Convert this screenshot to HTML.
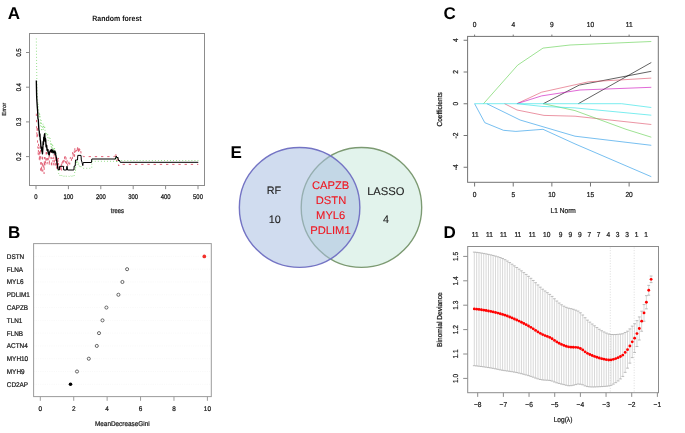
<!DOCTYPE html>
<html><head><meta charset="utf-8"><title>Figure</title>
<style>
html,body{margin:0;padding:0;background:#fff;}
body{width:685px;height:433px;overflow:hidden;}
svg{display:block;font-family:"Liberation Sans", sans-serif;text-rendering:geometricPrecision;filter:blur(0.4px);}
</style></head>
<body>
<svg width="685" height="433" viewBox="0 0 685 433">
<rect width="685" height="433" fill="#fff"/>
<text x="7.8" y="19.3" font-size="17" text-anchor="start" font-weight="bold" fill="#000">A</text>
<text transform="translate(117 20.7) scale(1 1.1)" font-size="7" text-anchor="middle" font-weight="bold" fill="#111">Random forest</text>
<polyline points="36.32,38.6 36.65,68.36 36.97,88.44 37.3,93.59 37.62,100.08 37.94,105.1 38.27,104.05 38.59,110.12 38.92,113.95 39.24,118.01 39.56,112.76 39.89,116.93 40.21,116.54 40.54,125.75 40.86,125.94 41.18,120.28 41.51,130.72 41.83,131.2 42.16,128.65 42.48,128.8 42.8,124.74 43.13,123.83 43.45,129.35 43.78,125.25 44.1,127.02 44.42,128 44.75,126.43 45.07,130.89 45.4,131.03 45.72,135.07 46.04,132.51 46.37,134.03 46.69,133.3 47.02,135.29 47.34,134.14 47.66,133.3 47.99,140.01 48.31,140.66 48.64,140.1 48.96,139.78 49.28,137.44 49.61,137.61 49.93,138.96 50.26,138.22 50.58,144.43 50.9,142.61 51.23,146.82 51.55,144.32 51.88,149.3 52.2,149.25 52.52,143.94 52.85,145.98 53.17,151.23 53.5,148.56 53.82,152.29 54.14,148.8 54.47,147.2 54.79,151.38 55.12,153.11 55.44,151.19 55.76,151.73 56.09,155.02 56.41,160.36 56.74,161.25 57.06,160.63 57.38,163.95 57.71,166.27 58.03,168.85 58.36,172.79 58.68,173.62 59,175.09 59.33,175.02 59.65,174.75 59.98,175.63 60.3,174.89 60.62,175.67 60.95,175.07 61.27,175.55 61.6,175.37 61.92,175.52 62.24,176.39 62.57,176.25 62.89,175.78 63.22,176.43 63.54,175.8 63.86,176.03 64.19,176.51 64.51,176.34 64.84,175.9 65.16,176.7 65.48,176.06 65.81,176.13 66.13,176.56 66.46,176.22 66.78,176.2 67.1,176.03 67.43,176.05 67.75,176.43 68.08,176.15 68.4,176.42 68.72,176.22 69.05,176.26 69.37,176.65 69.7,176.22 70.02,176.26 70.34,176.49 70.67,175.82 70.99,175.73 71.32,176.42 71.64,176.28 71.96,175.6 72.29,175.45 72.61,176.03 72.94,176.23 73.26,175.17 73.58,176.14 73.91,175.98 74.23,175.47 74.56,174.01 74.88,169.82 75.2,167.17 75.53,170.64 75.85,163.81 76.18,164.46 76.5,160.65 76.82,163.42 77.15,162.54 77.47,161.79 77.8,162.09 78.12,164.88 78.44,162.71 78.77,163.69 79.09,165.16 79.42,166.35 79.74,165.9 80.06,165.32 80.39,167.12 80.71,165.85 81.04,165.87 81.36,166.65 81.68,167.18 82.01,167.03 82.33,167.44 82.66,167.82 82.98,168.11 83.3,168.3 91.73,168.3 91.89,161.3 114.73,161.3 115.7,156 116.68,163 117.65,157.5 118.94,162 120.24,160.5 198.3,160.5" fill="none" stroke="#61D04F" stroke-width="0.85" stroke-dasharray="0.75 2.3"/>
<polyline points="36.32,113.7 36.65,126.91 36.97,137.85 37.3,126.4 37.62,147.26 37.94,147.25 38.27,155.46 38.59,143.35 38.92,148.08 39.24,159.44 39.56,151.69 39.89,161.29 40.21,145.84 40.54,149.02 40.86,172.45 41.18,162.2 41.51,165.21 41.83,172.12 42.16,158.93 42.48,148.84 42.8,171.39 43.13,164.82 43.45,166.35 43.78,164.78 44.1,174.01 44.42,157.05 44.75,167.24 45.07,157 45.4,161.91 45.72,163.85 46.04,155.49 46.37,150.12 46.69,158.97 47.02,164.31 47.34,161.28 47.66,158 47.99,162.15 48.31,152.16 48.64,152.13 48.96,155.27 49.28,165.69 49.61,152.96 49.93,151.57 50.26,151.6 50.58,150.78 50.9,155.84 51.23,161.94 51.55,166.91 51.88,157.7 52.2,158.56 52.52,157.09 52.85,157.36 53.17,165.77 53.5,161.47 53.82,156.19 54.14,153.47 54.47,164.86 54.79,163.4 55.12,165.29 55.44,155.81 55.76,160.99 56.09,167.15 56.41,162.77 56.74,168.4 57.06,158.05 57.38,169.31 57.71,157.55 58.03,162.46 58.36,157.96 58.68,167.72 59,166.47 59.33,170.04 59.65,168.22 59.98,170.02 60.3,165.41 60.62,170.63 60.95,167.94 61.27,163.4 61.6,170.41 61.92,163.63 62.24,161.37 62.57,159.69 62.89,163.46 63.22,159.89 63.54,167.26 63.86,166.75 64.19,158.15 64.51,156.39 64.84,160.56 65.16,156.45 65.48,160.41 65.81,163.39 66.13,157.64 66.46,159.75 66.78,165.19 67.1,160.71 67.43,159.96 67.75,166 68.08,165.3 68.4,166.13 68.72,163.81 69.05,160.71 69.37,163.3 69.7,164.33 70.02,161.93 70.34,157.36 70.67,157.45 70.99,158.11 71.32,161.24 71.64,158.57 71.96,157.96 72.29,160.09 72.61,152.37 72.94,156.84 73.26,153.24 73.58,154.79 73.91,156.82 74.23,150.55 74.56,156.78 74.88,147.98 75.2,152.2 75.53,151.66 75.85,148.49 76.18,151.23 76.5,150.17 76.82,149.8 77.15,152.01 77.47,145.8 77.8,148.96 78.12,152.28 78.44,147.33 78.77,152.94 79.09,148.4 79.42,151.91 79.74,149.08 80.06,151.12 80.39,151.39 80.71,150.32 81.04,153.36 81.36,152.93 81.68,153.99 82.01,154.12 82.33,154.75 82.66,155.34 82.98,155.87 83.3,156.6 114.73,156.6 115.7,153 116.68,161 117.65,157 118.62,166 119.92,164.4 198.3,164.4" fill="none" stroke="#DF536B" stroke-width="0.9" stroke-dasharray="2.3 3.9"/>
<polyline points="58.03,169.5 59.3,170 59.6,166.3 63.4,166.3 63.7,170 66.5,170 66.8,166.3 67.2,166.3 67.5,170 73.9,170 74.2,166 75.2,166 75.5,160 77.5,160 77.8,155.4 81,155.4 81.3,160 82.1,162.5 82.8,165.6 83.2,162.5 91.5,162.5 91.8,159 115.4,159 116.2,156 117,158 117.8,157 118.6,161 119.4,160 120.2,162.3 198.3,162.3" fill="none" stroke="#000" stroke-width="1" stroke-linejoin="round"/>
<polyline points="36.32,80.5 36.65,96.4 36.97,101.89 37.3,107.03 37.62,111.07 37.94,118.45 38.27,119.38 38.59,124.98 38.92,130.32 39.24,131.01 39.56,136.11 39.89,133.88 40.21,139.76 40.54,140.85 40.86,145.81 41.18,148.6 41.51,147.08 41.83,151.3 42.16,151.58 42.48,153.8 42.8,149.21 43.13,141.58 43.45,144.4 43.78,137.06 44.1,139.51 44.42,134.73 44.75,133.74 45.07,141.18 45.4,138.27 45.72,140.15 46.04,146.44 46.37,147.14 46.69,145.3 47.02,150.21 47.34,149.2 47.66,150.9 47.99,149.57 48.31,153.81 48.64,153.25 48.96,154.89 49.28,154.67 49.61,151.92 49.93,151.92 50.26,150.78 50.58,150.49 50.9,150.02 51.23,150.89 51.55,152.01 51.88,149.45 52.2,152.12 52.52,150.77 52.85,150.76 53.17,152.86 53.5,151.75 53.82,151.32 54.14,152.04 54.47,152.92 54.79,150.88 55.12,154.33 55.44,152.07 55.76,155.21 56.09,156.77 56.41,157.26 56.74,160.88 57.06,162.93 57.38,165.2 57.71,167.35 58.03,169.5" fill="none" stroke="#000" stroke-width="1.35" stroke-linejoin="round"/>
<rect x="29.5" y="33.5" width="175" height="152" fill="none" stroke="#8c8c8c" stroke-width="1"/>
<line x1="26" y1="156.6" x2="29.5" y2="156.6" stroke="#8c8c8c" stroke-width="1"/>
<text transform="translate(21.32 156.6) rotate(-90) scale(1 1.15)" font-size="5.9" text-anchor="middle" fill="#1a1a1a" stroke="#1a1a1a" stroke-width="0.22">0.2</text>
<line x1="26" y1="121.9" x2="29.5" y2="121.9" stroke="#8c8c8c" stroke-width="1"/>
<text transform="translate(21.32 121.9) rotate(-90) scale(1 1.15)" font-size="5.9" text-anchor="middle" fill="#1a1a1a" stroke="#1a1a1a" stroke-width="0.22">0.3</text>
<line x1="26" y1="87.2" x2="29.5" y2="87.2" stroke="#8c8c8c" stroke-width="1"/>
<text transform="translate(21.32 87.2) rotate(-90) scale(1 1.15)" font-size="5.9" text-anchor="middle" fill="#1a1a1a" stroke="#1a1a1a" stroke-width="0.22">0.4</text>
<line x1="26" y1="52.5" x2="29.5" y2="52.5" stroke="#8c8c8c" stroke-width="1"/>
<text transform="translate(21.32 52.5) rotate(-90) scale(1 1.15)" font-size="5.9" text-anchor="middle" fill="#1a1a1a" stroke="#1a1a1a" stroke-width="0.22">0.5</text>
<text transform="translate(6.34 109.3) rotate(-90) scale(1 1)" font-size="5.8" text-anchor="middle" fill="#1a1a1a" stroke="#1a1a1a" stroke-width="0.22">Error</text>
<line x1="36" y1="185.5" x2="36" y2="189.2" stroke="#8c8c8c" stroke-width="1"/>
<text transform="translate(36 199) scale(1 1.15)" font-size="5.9" text-anchor="middle" font-weight="normal" fill="#1a1a1a" stroke="#1a1a1a" stroke-width="0.22">0</text>
<line x1="68.4" y1="185.5" x2="68.4" y2="189.2" stroke="#8c8c8c" stroke-width="1"/>
<text transform="translate(68.4 199) scale(1 1.15)" font-size="5.9" text-anchor="middle" font-weight="normal" fill="#1a1a1a" stroke="#1a1a1a" stroke-width="0.22">100</text>
<line x1="100.8" y1="185.5" x2="100.8" y2="189.2" stroke="#8c8c8c" stroke-width="1"/>
<text transform="translate(100.8 199) scale(1 1.15)" font-size="5.9" text-anchor="middle" font-weight="normal" fill="#1a1a1a" stroke="#1a1a1a" stroke-width="0.22">200</text>
<line x1="133.2" y1="185.5" x2="133.2" y2="189.2" stroke="#8c8c8c" stroke-width="1"/>
<text transform="translate(133.2 199) scale(1 1.15)" font-size="5.9" text-anchor="middle" font-weight="normal" fill="#1a1a1a" stroke="#1a1a1a" stroke-width="0.22">300</text>
<line x1="165.6" y1="185.5" x2="165.6" y2="189.2" stroke="#8c8c8c" stroke-width="1"/>
<text transform="translate(165.6 199) scale(1 1.15)" font-size="5.9" text-anchor="middle" font-weight="normal" fill="#1a1a1a" stroke="#1a1a1a" stroke-width="0.22">400</text>
<line x1="198" y1="185.5" x2="198" y2="189.2" stroke="#8c8c8c" stroke-width="1"/>
<text transform="translate(198 199) scale(1 1.15)" font-size="5.9" text-anchor="middle" font-weight="normal" fill="#1a1a1a" stroke="#1a1a1a" stroke-width="0.22">500</text>
<text transform="translate(117.4 213.3) scale(1 1.15)" font-size="5.9" text-anchor="middle" font-weight="normal" fill="#1a1a1a" stroke="#1a1a1a" stroke-width="0.22">trees</text>
<text x="7.9" y="238.2" font-size="17" text-anchor="start" font-weight="bold" fill="#000">B</text>
<line x1="34.6" y1="256.4" x2="210.3" y2="256.4" stroke="#ececec" stroke-width="0.5" stroke-dasharray="0.6 1.2"/>
<text transform="translate(6.8 258.85) scale(1 1.08)" font-size="6.4" text-anchor="start" font-weight="normal" fill="#1a1a1a" stroke="#1a1a1a" stroke-width="0.22">DSTN</text>
<circle cx="204.3" cy="256.4" r="1.85" fill="#f2302a"/>
<line x1="34.6" y1="269.19" x2="210.3" y2="269.19" stroke="#ececec" stroke-width="0.5" stroke-dasharray="0.6 1.2"/>
<text transform="translate(6.8 271.64) scale(1 1.08)" font-size="6.4" text-anchor="start" font-weight="normal" fill="#1a1a1a" stroke="#1a1a1a" stroke-width="0.22">FLNA</text>
<circle cx="127.1" cy="269.19" r="1.55" fill="none" stroke="#444" stroke-width="0.8"/>
<line x1="34.6" y1="281.98" x2="210.3" y2="281.98" stroke="#ececec" stroke-width="0.5" stroke-dasharray="0.6 1.2"/>
<text transform="translate(6.8 284.43) scale(1 1.08)" font-size="6.4" text-anchor="start" font-weight="normal" fill="#1a1a1a" stroke="#1a1a1a" stroke-width="0.22">MYL6</text>
<circle cx="122.4" cy="281.98" r="1.55" fill="none" stroke="#444" stroke-width="0.8"/>
<line x1="34.6" y1="294.77" x2="210.3" y2="294.77" stroke="#ececec" stroke-width="0.5" stroke-dasharray="0.6 1.2"/>
<text transform="translate(6.8 297.22) scale(1 1.08)" font-size="6.4" text-anchor="start" font-weight="normal" fill="#1a1a1a" stroke="#1a1a1a" stroke-width="0.22">PDLIM1</text>
<circle cx="118.4" cy="294.77" r="1.55" fill="none" stroke="#444" stroke-width="0.8"/>
<line x1="34.6" y1="307.56" x2="210.3" y2="307.56" stroke="#ececec" stroke-width="0.5" stroke-dasharray="0.6 1.2"/>
<text transform="translate(6.8 310.01) scale(1 1.08)" font-size="6.4" text-anchor="start" font-weight="normal" fill="#1a1a1a" stroke="#1a1a1a" stroke-width="0.22">CAPZB</text>
<circle cx="106.4" cy="307.56" r="1.55" fill="none" stroke="#444" stroke-width="0.8"/>
<line x1="34.6" y1="320.35" x2="210.3" y2="320.35" stroke="#ececec" stroke-width="0.5" stroke-dasharray="0.6 1.2"/>
<text transform="translate(6.8 322.8) scale(1 1.08)" font-size="6.4" text-anchor="start" font-weight="normal" fill="#1a1a1a" stroke="#1a1a1a" stroke-width="0.22">TLN1</text>
<circle cx="102.5" cy="320.35" r="1.55" fill="none" stroke="#444" stroke-width="0.8"/>
<line x1="34.6" y1="333.14" x2="210.3" y2="333.14" stroke="#ececec" stroke-width="0.5" stroke-dasharray="0.6 1.2"/>
<text transform="translate(6.8 335.59) scale(1 1.08)" font-size="6.4" text-anchor="start" font-weight="normal" fill="#1a1a1a" stroke="#1a1a1a" stroke-width="0.22">FLNB</text>
<circle cx="99" cy="333.14" r="1.55" fill="none" stroke="#444" stroke-width="0.8"/>
<line x1="34.6" y1="345.93" x2="210.3" y2="345.93" stroke="#ececec" stroke-width="0.5" stroke-dasharray="0.6 1.2"/>
<text transform="translate(6.8 348.38) scale(1 1.08)" font-size="6.4" text-anchor="start" font-weight="normal" fill="#1a1a1a" stroke="#1a1a1a" stroke-width="0.22">ACTN4</text>
<circle cx="96.8" cy="345.93" r="1.55" fill="none" stroke="#444" stroke-width="0.8"/>
<line x1="34.6" y1="358.72" x2="210.3" y2="358.72" stroke="#ececec" stroke-width="0.5" stroke-dasharray="0.6 1.2"/>
<text transform="translate(6.8 361.17) scale(1 1.08)" font-size="6.4" text-anchor="start" font-weight="normal" fill="#1a1a1a" stroke="#1a1a1a" stroke-width="0.22">MYH10</text>
<circle cx="88.8" cy="358.72" r="1.55" fill="none" stroke="#444" stroke-width="0.8"/>
<line x1="34.6" y1="371.51" x2="210.3" y2="371.51" stroke="#ececec" stroke-width="0.5" stroke-dasharray="0.6 1.2"/>
<text transform="translate(6.8 373.96) scale(1 1.08)" font-size="6.4" text-anchor="start" font-weight="normal" fill="#1a1a1a" stroke="#1a1a1a" stroke-width="0.22">MYH9</text>
<circle cx="77" cy="371.51" r="1.55" fill="none" stroke="#444" stroke-width="0.8"/>
<line x1="34.6" y1="384.3" x2="210.3" y2="384.3" stroke="#ececec" stroke-width="0.5" stroke-dasharray="0.6 1.2"/>
<text transform="translate(6.8 386.75) scale(1 1.08)" font-size="6.4" text-anchor="start" font-weight="normal" fill="#1a1a1a" stroke="#1a1a1a" stroke-width="0.22">CD2AP</text>
<circle cx="70.5" cy="384.3" r="1.8" fill="#000"/>
<rect x="33.6" y="243.6" width="177.7" height="153" fill="none" stroke="#9c9c9c" stroke-width="1"/>
<line x1="40.3" y1="396.6" x2="40.3" y2="400.8" stroke="#9c9c9c" stroke-width="1"/>
<text transform="translate(40.3 411.25) scale(1 1.08)" font-size="6.4" text-anchor="middle" font-weight="normal" fill="#1a1a1a" stroke="#1a1a1a" stroke-width="0.22">0</text>
<line x1="73.72" y1="396.6" x2="73.72" y2="400.8" stroke="#9c9c9c" stroke-width="1"/>
<text transform="translate(73.72 411.25) scale(1 1.08)" font-size="6.4" text-anchor="middle" font-weight="normal" fill="#1a1a1a" stroke="#1a1a1a" stroke-width="0.22">2</text>
<line x1="107.14" y1="396.6" x2="107.14" y2="400.8" stroke="#9c9c9c" stroke-width="1"/>
<text transform="translate(107.14 411.25) scale(1 1.08)" font-size="6.4" text-anchor="middle" font-weight="normal" fill="#1a1a1a" stroke="#1a1a1a" stroke-width="0.22">4</text>
<line x1="140.56" y1="396.6" x2="140.56" y2="400.8" stroke="#9c9c9c" stroke-width="1"/>
<text transform="translate(140.56 411.25) scale(1 1.08)" font-size="6.4" text-anchor="middle" font-weight="normal" fill="#1a1a1a" stroke="#1a1a1a" stroke-width="0.22">6</text>
<line x1="173.98" y1="396.6" x2="173.98" y2="400.8" stroke="#9c9c9c" stroke-width="1"/>
<text transform="translate(173.98 411.25) scale(1 1.08)" font-size="6.4" text-anchor="middle" font-weight="normal" fill="#1a1a1a" stroke="#1a1a1a" stroke-width="0.22">8</text>
<line x1="207.4" y1="396.6" x2="207.4" y2="400.8" stroke="#9c9c9c" stroke-width="1"/>
<text transform="translate(207.4 411.25) scale(1 1.08)" font-size="6.4" text-anchor="middle" font-weight="normal" fill="#1a1a1a" stroke="#1a1a1a" stroke-width="0.22">10</text>
<text transform="translate(122.3 426.27) scale(1 1.08)" font-size="6.4" text-anchor="middle" font-weight="normal" fill="#1a1a1a" stroke="#1a1a1a" stroke-width="0.22">MeanDecreaseGini</text>
<text x="230.4" y="158.3" font-size="17" text-anchor="start" font-weight="bold" fill="#000">E</text>
<ellipse cx="361.45" cy="207.45" rx="60.25" ry="59.95" fill="#e2f3ec" stroke="#7c9a72" stroke-width="1.35"/>
<ellipse cx="299.6" cy="207.45" rx="60.25" ry="59.95" fill="#a9bfe2" fill-opacity="0.55" stroke="#7474c4" stroke-width="1.4"/>
<text x="273.9" y="194.2" font-size="10.8" text-anchor="middle" font-weight="normal" fill="#222" stroke="#222" stroke-width="0.1">RF</text>
<text x="274.7" y="222.9" font-size="10.8" text-anchor="middle" font-weight="normal" fill="#222" stroke="#222" stroke-width="0.1">10</text>
<text x="385.8" y="194.8" font-size="11.2" text-anchor="middle" font-weight="normal" fill="#222" stroke="#222" stroke-width="0.1">LASSO</text>
<text x="386" y="222.9" font-size="10.8" text-anchor="middle" font-weight="normal" fill="#222" stroke="#222" stroke-width="0.1">4</text>
<text x="330.7" y="188.6" font-size="11.2" text-anchor="middle" font-weight="normal" fill="#f0141e" stroke="#f0141e" stroke-width="0.1">CAPZB</text>
<text x="331" y="204" font-size="11.2" text-anchor="middle" font-weight="normal" fill="#f0141e" stroke="#f0141e" stroke-width="0.1">DSTN</text>
<text x="330.7" y="219.2" font-size="11.2" text-anchor="middle" font-weight="normal" fill="#f0141e" stroke="#f0141e" stroke-width="0.1">MYL6</text>
<text x="330.4" y="234.3" font-size="11.2" text-anchor="middle" font-weight="normal" fill="#f0141e" stroke="#f0141e" stroke-width="0.1">PDLIM1</text>
<text x="443.5" y="19" font-size="17" text-anchor="start" font-weight="bold" fill="#000">C</text>
<polyline points="543.3,103.7 579.2,85.1 651.3,71.3" fill="none" stroke="#000" stroke-width="0.62"/>
<polyline points="578.3,103.7 651.3,62.5" fill="none" stroke="#000" stroke-width="0.62"/>
<polyline points="516.9,103.7 541.6,92.2 588.5,81.8 651.3,78.1" fill="none" stroke="#DF536B" stroke-width="0.62"/>
<polyline points="504.5,103.7 517,110 544,115.4 575,116.2 651.3,124.5" fill="none" stroke="#DF536B" stroke-width="0.62"/>
<polyline points="483.5,103.7 517.7,65.1 543,48.1 570,45 651.3,41.5" fill="none" stroke="#61D04F" stroke-width="0.62"/>
<polyline points="543.3,103.7 575,110.6 626,129.3 651.3,137.2" fill="none" stroke="#61D04F" stroke-width="0.62"/>
<polyline points="474.6,103.7 484.8,122.7 503.5,130.3 515.9,131.4 543,129.3 575,143.9 651.3,176.7" fill="none" stroke="#2297E6" stroke-width="0.62"/>
<polyline points="486.8,103.7 520.1,120 575,136.2 651.3,145.3" fill="none" stroke="#2297E6" stroke-width="0.62"/>
<polyline points="516.9,103.7 541.6,95.9 580,90 651.3,87.3" fill="none" stroke="#CD0BBC" stroke-width="0.62"/>
<polyline points="517,103.7 541.9,106.4 575,107.9 651.3,115.2" fill="none" stroke="#28E2E5" stroke-width="0.62"/>
<polyline points="474.6,103.7 621.5,103.7 651.3,107.5" fill="none" stroke="#28E2E5" stroke-width="0.62"/>
<rect x="467.6" y="36.4" width="190.7" height="145.9" fill="none" stroke="#747474" stroke-width="1"/>
<line x1="474.6" y1="182.3" x2="474.6" y2="186.5" stroke="#747474" stroke-width="1"/>
<text transform="translate(474.6 197.17) scale(1 1.1)" font-size="6.6" text-anchor="middle" font-weight="normal" fill="#1a1a1a" stroke="#1a1a1a" stroke-width="0.22">0</text>
<line x1="474.6" y1="36.4" x2="474.6" y2="34.6" stroke="#747474" stroke-width="1"/>
<text transform="translate(474.6 26.87) scale(1 1.1)" font-size="6.6" text-anchor="middle" font-weight="normal" fill="#1a1a1a" stroke="#1a1a1a" stroke-width="0.22">0</text>
<line x1="513.23" y1="182.3" x2="513.23" y2="186.5" stroke="#747474" stroke-width="1"/>
<text transform="translate(513.23 197.17) scale(1 1.1)" font-size="6.6" text-anchor="middle" font-weight="normal" fill="#1a1a1a" stroke="#1a1a1a" stroke-width="0.22">5</text>
<line x1="513.23" y1="36.4" x2="513.23" y2="34.6" stroke="#747474" stroke-width="1"/>
<text transform="translate(513.23 26.87) scale(1 1.1)" font-size="6.6" text-anchor="middle" font-weight="normal" fill="#1a1a1a" stroke="#1a1a1a" stroke-width="0.22">4</text>
<line x1="551.86" y1="182.3" x2="551.86" y2="186.5" stroke="#747474" stroke-width="1"/>
<text transform="translate(551.86 197.17) scale(1 1.1)" font-size="6.6" text-anchor="middle" font-weight="normal" fill="#1a1a1a" stroke="#1a1a1a" stroke-width="0.22">10</text>
<line x1="551.86" y1="36.4" x2="551.86" y2="34.6" stroke="#747474" stroke-width="1"/>
<text transform="translate(551.86 26.87) scale(1 1.1)" font-size="6.6" text-anchor="middle" font-weight="normal" fill="#1a1a1a" stroke="#1a1a1a" stroke-width="0.22">9</text>
<line x1="590.49" y1="182.3" x2="590.49" y2="186.5" stroke="#747474" stroke-width="1"/>
<text transform="translate(590.49 197.17) scale(1 1.1)" font-size="6.6" text-anchor="middle" font-weight="normal" fill="#1a1a1a" stroke="#1a1a1a" stroke-width="0.22">15</text>
<line x1="590.49" y1="36.4" x2="590.49" y2="34.6" stroke="#747474" stroke-width="1"/>
<text transform="translate(590.49 26.87) scale(1 1.1)" font-size="6.6" text-anchor="middle" font-weight="normal" fill="#1a1a1a" stroke="#1a1a1a" stroke-width="0.22">10</text>
<line x1="629.12" y1="182.3" x2="629.12" y2="186.5" stroke="#747474" stroke-width="1"/>
<text transform="translate(629.12 197.17) scale(1 1.1)" font-size="6.6" text-anchor="middle" font-weight="normal" fill="#1a1a1a" stroke="#1a1a1a" stroke-width="0.22">20</text>
<line x1="629.12" y1="36.4" x2="629.12" y2="34.6" stroke="#747474" stroke-width="1"/>
<text transform="translate(629.12 26.87) scale(1 1.1)" font-size="6.6" text-anchor="middle" font-weight="normal" fill="#1a1a1a" stroke="#1a1a1a" stroke-width="0.22">11</text>
<line x1="463.6" y1="40.25" x2="467.6" y2="40.25" stroke="#747474" stroke-width="1"/>
<text transform="translate(457.98 40.25) rotate(-90) scale(1 1.1)" font-size="6.6" text-anchor="middle" fill="#1a1a1a" stroke="#1a1a1a" stroke-width="0.22">4</text>
<line x1="463.6" y1="72" x2="467.6" y2="72" stroke="#747474" stroke-width="1"/>
<text transform="translate(457.98 72) rotate(-90) scale(1 1.1)" font-size="6.6" text-anchor="middle" fill="#1a1a1a" stroke="#1a1a1a" stroke-width="0.22">2</text>
<line x1="463.6" y1="103.75" x2="467.6" y2="103.75" stroke="#747474" stroke-width="1"/>
<text transform="translate(457.98 103.75) rotate(-90) scale(1 1.1)" font-size="6.6" text-anchor="middle" fill="#1a1a1a" stroke="#1a1a1a" stroke-width="0.22">0</text>
<line x1="463.6" y1="135.5" x2="467.6" y2="135.5" stroke="#747474" stroke-width="1"/>
<text transform="translate(457.98 135.5) rotate(-90) scale(1 1.1)" font-size="6.6" text-anchor="middle" fill="#1a1a1a" stroke="#1a1a1a" stroke-width="0.22">-2</text>
<line x1="463.6" y1="167.25" x2="467.6" y2="167.25" stroke="#747474" stroke-width="1"/>
<text transform="translate(457.98 167.25) rotate(-90) scale(1 1.1)" font-size="6.6" text-anchor="middle" fill="#1a1a1a" stroke="#1a1a1a" stroke-width="0.22">-4</text>
<text transform="translate(441.78 109.4) rotate(-90) scale(1 1.1)" font-size="6.6" text-anchor="middle" fill="#1a1a1a" stroke="#1a1a1a" stroke-width="0.22">Coefficients</text>
<text transform="translate(563.2 213.27) scale(1 1.1)" font-size="6.6" text-anchor="middle" font-weight="normal" fill="#1a1a1a" stroke="#1a1a1a" stroke-width="0.22">L1 Norm</text>
<text x="443.6" y="238.2" font-size="17" text-anchor="start" font-weight="bold" fill="#000">D</text>
<line x1="610.3" y1="247.5" x2="610.3" y2="391.7" stroke="#cfcfcf" stroke-width="0.7" stroke-dasharray="1 1.6"/>
<line x1="634.2" y1="247.5" x2="634.2" y2="391.7" stroke="#cfcfcf" stroke-width="0.7" stroke-dasharray="1 1.6"/>
<path d="M474.3 252.1V365.7M476.66 252.35V365.94M479.01 252.66V366.22M481.37 253.03V366.53M483.73 253.43V366.86M486.09 253.88V367.21M488.44 254.36V367.57M490.8 254.88V367.95M493.16 255.45V368.37M495.52 256.09V368.83M497.87 256.79V369.34M500.23 257.54V369.87M502.59 258.49V370.32M504.95 259.66V370.68M507.3 261.04V371.01M509.66 262.57V371.35M512.02 264.19V371.71M514.37 265.85V372.11M516.73 267.49V372.57M519.09 269.13V373.11M521.45 270.84V373.69M523.8 272.61V374.31M526.16 274.44V374.96M528.52 276.33V375.63M530.88 278.31V376.36M533.23 280.46V377.2M535.59 282.69V378.08M537.95 284.96V378.87M540.31 287.16V379.51M542.66 289.2V379.95M545.02 290.99V380.13M547.38 292.67V380.23M549.73 294.4V380.46M552.09 296.4V381.05M554.45 298.77V381.99M556.81 301.03V382.81M559.16 303.02V383.46M561.52 304.79V384.08M563.88 306.18V384.62M566.24 307.33V385.25M568.59 308.18V385.72M570.95 308.67V385.68M573.31 309.29V385.24M575.67 310.14V384.6M578.02 311.08V384.04M580.38 312.8V384.22M582.74 314.99V384.8M585.09 317.74V385.88M587.45 320.13V386.57M589.81 322.13V386.87M592.17 324V386.98M594.52 325.81V386.94M596.88 327.57V386.84M599.24 329.26V386.74M601.6 330.74V386.6M603.95 331.96V386.41M606.31 333.06V386.25M608.67 333.96V385.96M611.03 334.5V385.32M613.38 334.57V384.12M615.74 334.52V382.66M618.1 334.32V380.94M620.45 334.04V378.92M622.81 333.72V376.42M625.17 332.47V372.35M627.53 331.18V368.15M629.88 328.91V363.14M632.24 326.13V357.61M634.6 323.78V352.47M636.96 320.63V346.54M639.31 316.94V340M641.67 311.18V331.22M644.03 304.55V321.21M646.39 295.67V308.83M648.74 285.36V295.2M651.1 276V282.6" stroke="#bebebe" stroke-width="0.6" fill="none"/>
<path d="M472.9 252.1H475.7M472.9 365.7H475.7M475.26 252.35H478.06M475.26 365.94H478.06M477.61 252.66H480.41M477.61 366.22H480.41M479.97 253.03H482.77M479.97 366.53H482.77M482.33 253.43H485.13M482.33 366.86H485.13M484.69 253.88H487.49M484.69 367.21H487.49M487.04 254.36H489.84M487.04 367.57H489.84M489.4 254.88H492.2M489.4 367.95H492.2M491.76 255.45H494.56M491.76 368.37H494.56M494.12 256.09H496.92M494.12 368.83H496.92M496.47 256.79H499.27M496.47 369.34H499.27M498.83 257.54H501.63M498.83 369.87H501.63M501.19 258.49H503.99M501.19 370.32H503.99M503.55 259.66H506.35M503.55 370.68H506.35M505.9 261.04H508.7M505.9 371.01H508.7M508.26 262.57H511.06M508.26 371.35H511.06M510.62 264.19H513.42M510.62 371.71H513.42M512.97 265.85H515.77M512.97 372.11H515.77M515.33 267.49H518.13M515.33 372.57H518.13M517.69 269.13H520.49M517.69 373.11H520.49M520.05 270.84H522.85M520.05 373.69H522.85M522.4 272.61H525.2M522.4 374.31H525.2M524.76 274.44H527.56M524.76 374.96H527.56M527.12 276.33H529.92M527.12 375.63H529.92M529.48 278.31H532.28M529.48 376.36H532.28M531.83 280.46H534.63M531.83 377.2H534.63M534.19 282.69H536.99M534.19 378.08H536.99M536.55 284.96H539.35M536.55 378.87H539.35M538.91 287.16H541.71M538.91 379.51H541.71M541.26 289.2H544.06M541.26 379.95H544.06M543.62 290.99H546.42M543.62 380.13H546.42M545.98 292.67H548.78M545.98 380.23H548.78M548.33 294.4H551.13M548.33 380.46H551.13M550.69 296.4H553.49M550.69 381.05H553.49M553.05 298.77H555.85M553.05 381.99H555.85M555.41 301.03H558.21M555.41 382.81H558.21M557.76 303.02H560.56M557.76 383.46H560.56M560.12 304.79H562.92M560.12 384.08H562.92M562.48 306.18H565.28M562.48 384.62H565.28M564.84 307.33H567.64M564.84 385.25H567.64M567.19 308.18H569.99M567.19 385.72H569.99M569.55 308.67H572.35M569.55 385.68H572.35M571.91 309.29H574.71M571.91 385.24H574.71M574.27 310.14H577.07M574.27 384.6H577.07M576.62 311.08H579.42M576.62 384.04H579.42M578.98 312.8H581.78M578.98 384.22H581.78M581.34 314.99H584.14M581.34 384.8H584.14M583.69 317.74H586.49M583.69 385.88H586.49M586.05 320.13H588.85M586.05 386.57H588.85M588.41 322.13H591.21M588.41 386.87H591.21M590.77 324H593.57M590.77 386.98H593.57M593.12 325.81H595.92M593.12 386.94H595.92M595.48 327.57H598.28M595.48 386.84H598.28M597.84 329.26H600.64M597.84 386.74H600.64M600.2 330.74H603M600.2 386.6H603M602.55 331.96H605.35M602.55 386.41H605.35M604.91 333.06H607.71M604.91 386.25H607.71M607.27 333.96H610.07M607.27 385.96H610.07M609.63 334.5H612.43M609.63 385.32H612.43M611.98 334.57H614.78M611.98 384.12H614.78M614.34 334.52H617.14M614.34 382.66H617.14M616.7 334.32H619.5M616.7 380.94H619.5M619.05 334.04H621.85M619.05 378.92H621.85M621.41 333.72H624.21M621.41 376.42H624.21M623.77 332.47H626.57M623.77 372.35H626.57M626.13 331.18H628.93M626.13 368.15H628.93M628.48 328.91H631.28M628.48 363.14H631.28M630.84 326.13H633.64M630.84 357.61H633.64M633.2 323.78H636M633.2 352.47H636M635.56 320.63H638.36M635.56 346.54H638.36M637.91 316.94H640.71M637.91 340H640.71M640.27 311.18H643.07M640.27 331.22H643.07M642.63 304.55H645.43M642.63 321.21H645.43M644.99 295.67H647.79M644.99 308.83H647.79M647.34 285.36H650.14M647.34 295.2H650.14M649.7 276H652.5M649.7 282.6H652.5" stroke="#a8a8a8" stroke-width="0.75" fill="none"/>
<circle cx="474.3" cy="308.9" r="1.42" fill="#f00"/>
<circle cx="476.66" cy="309.15" r="1.42" fill="#f00"/>
<circle cx="479.01" cy="309.44" r="1.42" fill="#f00"/>
<circle cx="481.37" cy="309.78" r="1.42" fill="#f00"/>
<circle cx="483.73" cy="310.14" r="1.42" fill="#f00"/>
<circle cx="486.09" cy="310.54" r="1.42" fill="#f00"/>
<circle cx="488.44" cy="310.97" r="1.42" fill="#f00"/>
<circle cx="490.8" cy="311.41" r="1.42" fill="#f00"/>
<circle cx="493.16" cy="311.91" r="1.42" fill="#f00"/>
<circle cx="495.52" cy="312.46" r="1.42" fill="#f00"/>
<circle cx="497.87" cy="313.06" r="1.42" fill="#f00"/>
<circle cx="500.23" cy="313.71" r="1.42" fill="#f00"/>
<circle cx="502.59" cy="314.4" r="1.42" fill="#f00"/>
<circle cx="504.95" cy="315.17" r="1.42" fill="#f00"/>
<circle cx="507.3" cy="316.03" r="1.42" fill="#f00"/>
<circle cx="509.66" cy="316.96" r="1.42" fill="#f00"/>
<circle cx="512.02" cy="317.95" r="1.42" fill="#f00"/>
<circle cx="514.37" cy="318.98" r="1.42" fill="#f00"/>
<circle cx="516.73" cy="320.03" r="1.42" fill="#f00"/>
<circle cx="519.09" cy="321.12" r="1.42" fill="#f00"/>
<circle cx="521.45" cy="322.27" r="1.42" fill="#f00"/>
<circle cx="523.8" cy="323.46" r="1.42" fill="#f00"/>
<circle cx="526.16" cy="324.7" r="1.42" fill="#f00"/>
<circle cx="528.52" cy="325.98" r="1.42" fill="#f00"/>
<circle cx="530.88" cy="327.34" r="1.42" fill="#f00"/>
<circle cx="533.23" cy="328.83" r="1.42" fill="#f00"/>
<circle cx="535.59" cy="330.38" r="1.42" fill="#f00"/>
<circle cx="537.95" cy="331.91" r="1.42" fill="#f00"/>
<circle cx="540.31" cy="333.34" r="1.42" fill="#f00"/>
<circle cx="542.66" cy="334.57" r="1.42" fill="#f00"/>
<circle cx="545.02" cy="335.56" r="1.42" fill="#f00"/>
<circle cx="547.38" cy="336.45" r="1.42" fill="#f00"/>
<circle cx="549.73" cy="337.43" r="1.42" fill="#f00"/>
<circle cx="552.09" cy="338.73" r="1.42" fill="#f00"/>
<circle cx="554.45" cy="340.38" r="1.42" fill="#f00"/>
<circle cx="556.81" cy="341.92" r="1.42" fill="#f00"/>
<circle cx="559.16" cy="343.24" r="1.42" fill="#f00"/>
<circle cx="561.52" cy="344.43" r="1.42" fill="#f00"/>
<circle cx="563.88" cy="345.4" r="1.42" fill="#f00"/>
<circle cx="566.24" cy="346.29" r="1.42" fill="#f00"/>
<circle cx="568.59" cy="346.95" r="1.42" fill="#f00"/>
<circle cx="570.95" cy="347.18" r="1.42" fill="#f00"/>
<circle cx="573.31" cy="347.27" r="1.42" fill="#f00"/>
<circle cx="575.67" cy="347.37" r="1.42" fill="#f00"/>
<circle cx="578.02" cy="347.56" r="1.42" fill="#f00"/>
<circle cx="580.38" cy="348.51" r="1.42" fill="#f00"/>
<circle cx="582.74" cy="349.89" r="1.42" fill="#f00"/>
<circle cx="585.09" cy="351.81" r="1.42" fill="#f00"/>
<circle cx="587.45" cy="353.35" r="1.42" fill="#f00"/>
<circle cx="589.81" cy="354.5" r="1.42" fill="#f00"/>
<circle cx="592.17" cy="355.49" r="1.42" fill="#f00"/>
<circle cx="594.52" cy="356.38" r="1.42" fill="#f00"/>
<circle cx="596.88" cy="357.21" r="1.42" fill="#f00"/>
<circle cx="599.24" cy="358" r="1.42" fill="#f00"/>
<circle cx="601.6" cy="358.67" r="1.42" fill="#f00"/>
<circle cx="603.95" cy="359.18" r="1.42" fill="#f00"/>
<circle cx="606.31" cy="359.65" r="1.42" fill="#f00"/>
<circle cx="608.67" cy="359.96" r="1.42" fill="#f00"/>
<circle cx="611.03" cy="359.91" r="1.42" fill="#f00"/>
<circle cx="613.38" cy="359.35" r="1.42" fill="#f00"/>
<circle cx="615.74" cy="358.59" r="1.42" fill="#f00"/>
<circle cx="618.1" cy="357.63" r="1.42" fill="#f00"/>
<circle cx="620.45" cy="356.48" r="1.42" fill="#f00"/>
<circle cx="622.81" cy="355.07" r="1.42" fill="#f00"/>
<circle cx="625.17" cy="352.41" r="1.42" fill="#f00"/>
<circle cx="627.53" cy="349.66" r="1.42" fill="#f00"/>
<circle cx="629.88" cy="346.03" r="1.42" fill="#f00"/>
<circle cx="632.24" cy="341.87" r="1.42" fill="#f00"/>
<circle cx="634.6" cy="338.13" r="1.42" fill="#f00"/>
<circle cx="636.96" cy="333.59" r="1.42" fill="#f00"/>
<circle cx="639.31" cy="328.47" r="1.42" fill="#f00"/>
<circle cx="641.67" cy="321.2" r="1.42" fill="#f00"/>
<circle cx="644.03" cy="312.88" r="1.42" fill="#f00"/>
<circle cx="646.39" cy="302.25" r="1.42" fill="#f00"/>
<circle cx="648.74" cy="290.28" r="1.42" fill="#f00"/>
<circle cx="651.1" cy="279.3" r="1.42" fill="#f00"/>
<rect x="467.7" y="246.5" width="190.8" height="146.2" fill="none" stroke="#8c8c8c" stroke-width="1"/>
<line x1="463.2" y1="378.4" x2="467.7" y2="378.4" stroke="#8c8c8c" stroke-width="1"/>
<text transform="translate(458.48 378.4) rotate(-90) scale(1 1.1)" font-size="6.6" text-anchor="middle" fill="#1a1a1a" stroke="#1a1a1a" stroke-width="0.22">1.0</text>
<line x1="463.2" y1="354" x2="467.7" y2="354" stroke="#8c8c8c" stroke-width="1"/>
<text transform="translate(458.48 354) rotate(-90) scale(1 1.1)" font-size="6.6" text-anchor="middle" fill="#1a1a1a" stroke="#1a1a1a" stroke-width="0.22">1.1</text>
<line x1="463.2" y1="329.6" x2="467.7" y2="329.6" stroke="#8c8c8c" stroke-width="1"/>
<text transform="translate(458.48 329.6) rotate(-90) scale(1 1.1)" font-size="6.6" text-anchor="middle" fill="#1a1a1a" stroke="#1a1a1a" stroke-width="0.22">1.2</text>
<line x1="463.2" y1="305.2" x2="467.7" y2="305.2" stroke="#8c8c8c" stroke-width="1"/>
<text transform="translate(458.48 305.2) rotate(-90) scale(1 1.1)" font-size="6.6" text-anchor="middle" fill="#1a1a1a" stroke="#1a1a1a" stroke-width="0.22">1.3</text>
<line x1="463.2" y1="280.8" x2="467.7" y2="280.8" stroke="#8c8c8c" stroke-width="1"/>
<text transform="translate(458.48 280.8) rotate(-90) scale(1 1.1)" font-size="6.6" text-anchor="middle" fill="#1a1a1a" stroke="#1a1a1a" stroke-width="0.22">1.4</text>
<line x1="463.2" y1="256.4" x2="467.7" y2="256.4" stroke="#8c8c8c" stroke-width="1"/>
<text transform="translate(458.48 256.4) rotate(-90) scale(1 1.1)" font-size="6.6" text-anchor="middle" fill="#1a1a1a" stroke="#1a1a1a" stroke-width="0.22">1.5</text>
<line x1="477.7" y1="392.7" x2="477.7" y2="396.9" stroke="#8c8c8c" stroke-width="1"/>
<text transform="translate(477.7 406.97) scale(1 1.1)" font-size="6.6" text-anchor="middle" font-weight="normal" fill="#1a1a1a" stroke="#1a1a1a" stroke-width="0.22">−8</text>
<line x1="503.37" y1="392.7" x2="503.37" y2="396.9" stroke="#8c8c8c" stroke-width="1"/>
<text transform="translate(503.37 406.97) scale(1 1.1)" font-size="6.6" text-anchor="middle" font-weight="normal" fill="#1a1a1a" stroke="#1a1a1a" stroke-width="0.22">−7</text>
<line x1="529.04" y1="392.7" x2="529.04" y2="396.9" stroke="#8c8c8c" stroke-width="1"/>
<text transform="translate(529.04 406.97) scale(1 1.1)" font-size="6.6" text-anchor="middle" font-weight="normal" fill="#1a1a1a" stroke="#1a1a1a" stroke-width="0.22">−6</text>
<line x1="554.71" y1="392.7" x2="554.71" y2="396.9" stroke="#8c8c8c" stroke-width="1"/>
<text transform="translate(554.71 406.97) scale(1 1.1)" font-size="6.6" text-anchor="middle" font-weight="normal" fill="#1a1a1a" stroke="#1a1a1a" stroke-width="0.22">−5</text>
<line x1="580.38" y1="392.7" x2="580.38" y2="396.9" stroke="#8c8c8c" stroke-width="1"/>
<text transform="translate(580.38 406.97) scale(1 1.1)" font-size="6.6" text-anchor="middle" font-weight="normal" fill="#1a1a1a" stroke="#1a1a1a" stroke-width="0.22">−4</text>
<line x1="606.05" y1="392.7" x2="606.05" y2="396.9" stroke="#8c8c8c" stroke-width="1"/>
<text transform="translate(606.05 406.97) scale(1 1.1)" font-size="6.6" text-anchor="middle" font-weight="normal" fill="#1a1a1a" stroke="#1a1a1a" stroke-width="0.22">−3</text>
<line x1="631.72" y1="392.7" x2="631.72" y2="396.9" stroke="#8c8c8c" stroke-width="1"/>
<text transform="translate(631.72 406.97) scale(1 1.1)" font-size="6.6" text-anchor="middle" font-weight="normal" fill="#1a1a1a" stroke="#1a1a1a" stroke-width="0.22">−2</text>
<line x1="657.39" y1="392.7" x2="657.39" y2="396.9" stroke="#8c8c8c" stroke-width="1"/>
<text transform="translate(657.39 406.97) scale(1 1.1)" font-size="6.6" text-anchor="middle" font-weight="normal" fill="#1a1a1a" stroke="#1a1a1a" stroke-width="0.22">−1</text>
<text transform="translate(475.2 237.17) scale(1 1.1)" font-size="6.6" text-anchor="middle" font-weight="normal" fill="#1a1a1a" stroke="#1a1a1a" stroke-width="0.22">11</text>
<text transform="translate(489.5 237.17) scale(1 1.1)" font-size="6.6" text-anchor="middle" font-weight="normal" fill="#1a1a1a" stroke="#1a1a1a" stroke-width="0.22">11</text>
<text transform="translate(503.5 237.17) scale(1 1.1)" font-size="6.6" text-anchor="middle" font-weight="normal" fill="#1a1a1a" stroke="#1a1a1a" stroke-width="0.22">11</text>
<text transform="translate(517.8 237.17) scale(1 1.1)" font-size="6.6" text-anchor="middle" font-weight="normal" fill="#1a1a1a" stroke="#1a1a1a" stroke-width="0.22">11</text>
<text transform="translate(532.2 237.17) scale(1 1.1)" font-size="6.6" text-anchor="middle" font-weight="normal" fill="#1a1a1a" stroke="#1a1a1a" stroke-width="0.22">11</text>
<text transform="translate(546.7 237.17) scale(1 1.1)" font-size="6.6" text-anchor="middle" font-weight="normal" fill="#1a1a1a" stroke="#1a1a1a" stroke-width="0.22">10</text>
<text transform="translate(560.7 237.17) scale(1 1.1)" font-size="6.6" text-anchor="middle" font-weight="normal" fill="#1a1a1a" stroke="#1a1a1a" stroke-width="0.22">9</text>
<text transform="translate(570.3 237.17) scale(1 1.1)" font-size="6.6" text-anchor="middle" font-weight="normal" fill="#1a1a1a" stroke="#1a1a1a" stroke-width="0.22">9</text>
<text transform="translate(579.9 237.17) scale(1 1.1)" font-size="6.6" text-anchor="middle" font-weight="normal" fill="#1a1a1a" stroke="#1a1a1a" stroke-width="0.22">9</text>
<text transform="translate(589.4 237.17) scale(1 1.1)" font-size="6.6" text-anchor="middle" font-weight="normal" fill="#1a1a1a" stroke="#1a1a1a" stroke-width="0.22">7</text>
<text transform="translate(598.7 237.17) scale(1 1.1)" font-size="6.6" text-anchor="middle" font-weight="normal" fill="#1a1a1a" stroke="#1a1a1a" stroke-width="0.22">7</text>
<text transform="translate(608.3 237.17) scale(1 1.1)" font-size="6.6" text-anchor="middle" font-weight="normal" fill="#1a1a1a" stroke="#1a1a1a" stroke-width="0.22">4</text>
<text transform="translate(617.6 237.17) scale(1 1.1)" font-size="6.6" text-anchor="middle" font-weight="normal" fill="#1a1a1a" stroke="#1a1a1a" stroke-width="0.22">3</text>
<text transform="translate(627.2 237.17) scale(1 1.1)" font-size="6.6" text-anchor="middle" font-weight="normal" fill="#1a1a1a" stroke="#1a1a1a" stroke-width="0.22">3</text>
<text transform="translate(636.7 237.17) scale(1 1.1)" font-size="6.6" text-anchor="middle" font-weight="normal" fill="#1a1a1a" stroke="#1a1a1a" stroke-width="0.22">1</text>
<text transform="translate(646.2 237.17) scale(1 1.1)" font-size="6.6" text-anchor="middle" font-weight="normal" fill="#1a1a1a" stroke="#1a1a1a" stroke-width="0.22">1</text>
<text transform="translate(441.98 319.6) rotate(-90) scale(1 1.1)" font-size="6.6" text-anchor="middle" fill="#1a1a1a" stroke="#1a1a1a" stroke-width="0.22">Binomial Deviance</text>
<text transform="translate(563 421.78) scale(1 1.1)" font-size="6.6" text-anchor="middle" font-weight="normal" fill="#1a1a1a" stroke="#1a1a1a" stroke-width="0.22">Log(λ)</text>
</svg>
</body></html>
